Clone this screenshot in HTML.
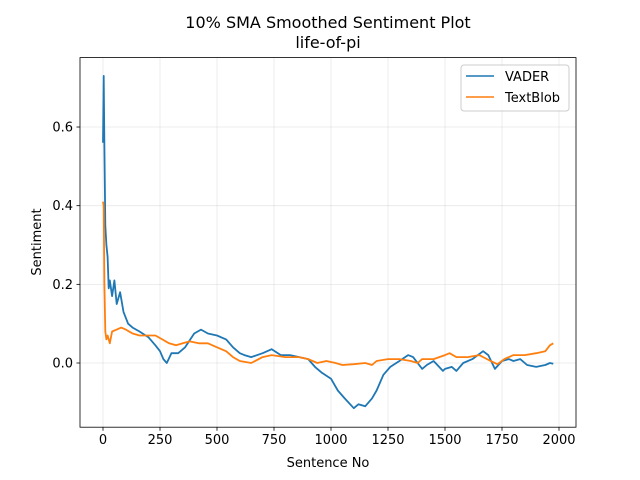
<!DOCTYPE html>
<html><head><meta charset="utf-8"><style>
html,body{margin:0;padding:0;background:#fff;}
svg{display:block;font-family:"DejaVu Sans","Liberation Sans",sans-serif;}
</style></head><body>
<svg id="chart" width="640" height="480" viewBox="0 0 640 480">
<rect width="640" height="480" fill="#fff"/>
<text x="328" y="28" text-anchor="middle" font-size="16">10% SMA Smoothed Sentiment Plot</text>
<text x="328" y="48" text-anchor="middle" font-size="16">life-of-pi</text>
<g id="grid"></g><g id="series"></g><g id="axes"></g>
<text x="328" y="467" text-anchor="middle" font-size="13">Sentence No</text>
<text transform="translate(41,242) rotate(-90)" text-anchor="middle" font-size="13">Sentiment</text>
<g>
<rect x="461" y="65" width="108" height="46" rx="3" fill="#fff" fill-opacity="0.8" stroke="#ccc"/>
<line x1="466" y1="76" x2="494" y2="76" stroke="#1f77b4" stroke-width="1.6"/>
<text x="505" y="81" font-size="13">VADER</text>
<line x1="466" y1="97" x2="494" y2="97" stroke="#ff7f0e" stroke-width="1.6"/>
<text x="505" y="102" font-size="13">TextBlob</text>
</g>
</svg>
<script>
const xTicks=[0,250,500,750,1000,1250,1500,1750,2000];
const yTicks=[0.0,0.2,0.4,0.6];
const yTickLabels=["0.0","0.2","0.4","0.6"];
const vaderX=[0,3,6,10,15,20,25,30,40,50,60,75,90,110,130,160,200,230,250,265,280,300,330,360,400,430,460,500,540,570,600,620,650,700,740,780,820,860,900,930,960,1000,1030,1060,1100,1120,1150,1180,1200,1230,1260,1300,1338,1360,1380,1400,1420,1450,1491,1500,1530,1550,1580,1620,1667,1690,1719,1750,1780,1800,1830,1860,1900,1940,1960,1975];
const vaderY=[0.56,0.73,0.55,0.35,0.30,0.27,0.19,0.21,0.17,0.21,0.15,0.18,0.13,0.10,0.09,0.08,0.065,0.045,0.03,0.01,0.0,0.025,0.025,0.04,0.075,0.085,0.075,0.07,0.06,0.04,0.025,0.02,0.015,0.025,0.035,0.02,0.02,0.015,0.01,-0.01,-0.025,-0.04,-0.07,-0.09,-0.115,-0.105,-0.11,-0.09,-0.07,-0.03,-0.01,0.005,0.02,0.015,0.0,-0.015,-0.005,0.005,-0.02,-0.015,-0.01,-0.02,0.0,0.01,0.03,0.02,-0.015,0.005,0.01,0.005,0.01,-0.005,-0.01,-0.005,0.0,-0.002];
const blobX=[0,3,6,10,15,20,30,40,60,80,100,130,160,200,230,260,290,320,350,380,420,460,500,540,570,600,650,700,740,800,860,900,940,980,1020,1050,1100,1150,1180,1200,1250,1300,1350,1380,1400,1450,1500,1520,1550,1600,1650,1700,1730,1760,1800,1850,1900,1940,1960,1975];
const blobY=[0.41,0.40,0.2,0.08,0.06,0.07,0.05,0.08,0.085,0.09,0.085,0.075,0.07,0.07,0.07,0.06,0.05,0.045,0.05,0.055,0.05,0.05,0.04,0.03,0.015,0.005,0.0,0.015,0.02,0.015,0.015,0.01,0.0,0.005,0.0,-0.005,-0.003,0.0,-0.005,0.005,0.01,0.01,0.005,0.0,0.01,0.01,0.02,0.025,0.015,0.015,0.02,0.005,-0.003,0.01,0.02,0.02,0.025,0.03,0.045,0.05];
const L=80,R=576,T=57.6,B=427.2;
const sx=v=>103+v*0.228;
const sy=v=>363-v*393.3;
const NS="http://www.w3.org/2000/svg";
function mk(tag,attrs,parent){const e=document.createElementNS(NS,tag);for(const k in attrs)e.setAttribute(k,attrs[k]);parent.appendChild(e);return e;}
const grid=document.getElementById('grid'),axes=document.getElementById('axes'),series=document.getElementById('series');
xTicks.forEach(t=>{const x=sx(t);
 const g=mk('line',{x1:x,x2:x,y1:T,y2:B,stroke:'#b0b0b0','stroke-opacity':0.3,'stroke-width':0.8},grid);
 
 
 const tk=mk('line',{x1:x,x2:x,y1:B,y2:B+3.5,stroke:'#000','stroke-width':0.8},axes);
 
 
 const lb=mk('text',{x:x,y:B+17,'text-anchor':'middle','font-size':13},axes);lb.textContent=t;
 
 
});
yTicks.forEach((t,i)=>{const y=sy(t);
 const g=mk('line',{x1:L,x2:R,y1:y,y2:y,stroke:'#b0b0b0','stroke-opacity':0.3,'stroke-width':0.8},grid);
 
 
 const tk=mk('line',{x1:L-3.5,x2:L,y1:y,y2:y,stroke:'#000','stroke-width':0.8},axes);
 
 
 const lb=mk('text',{x:L-7,y:y+4.5,'text-anchor':'end','font-size':13},axes);lb.textContent=yTickLabels[i];
 
 
});
const frame=mk('rect',{x:L,y:T,width:R-L,height:B-T,fill:'none',stroke:'#000','stroke-width':0.8},axes);


function line(xs,ys,color,name){
 const d=xs.map((x,i)=>(i?'L':'M')+sx(x).toFixed(1)+','+sy(ys[i]).toFixed(1)).join('');
 const p=mk('path',{d:d,fill:'none',stroke:color,'stroke-width':1.8,'stroke-linejoin':'round'},series);
 
 
}
line(vaderX,vaderY,'#1f77b4','vader-line');
line(blobX,blobY,'#ff7f0e','textblob-line');
</script>
</body></html>
